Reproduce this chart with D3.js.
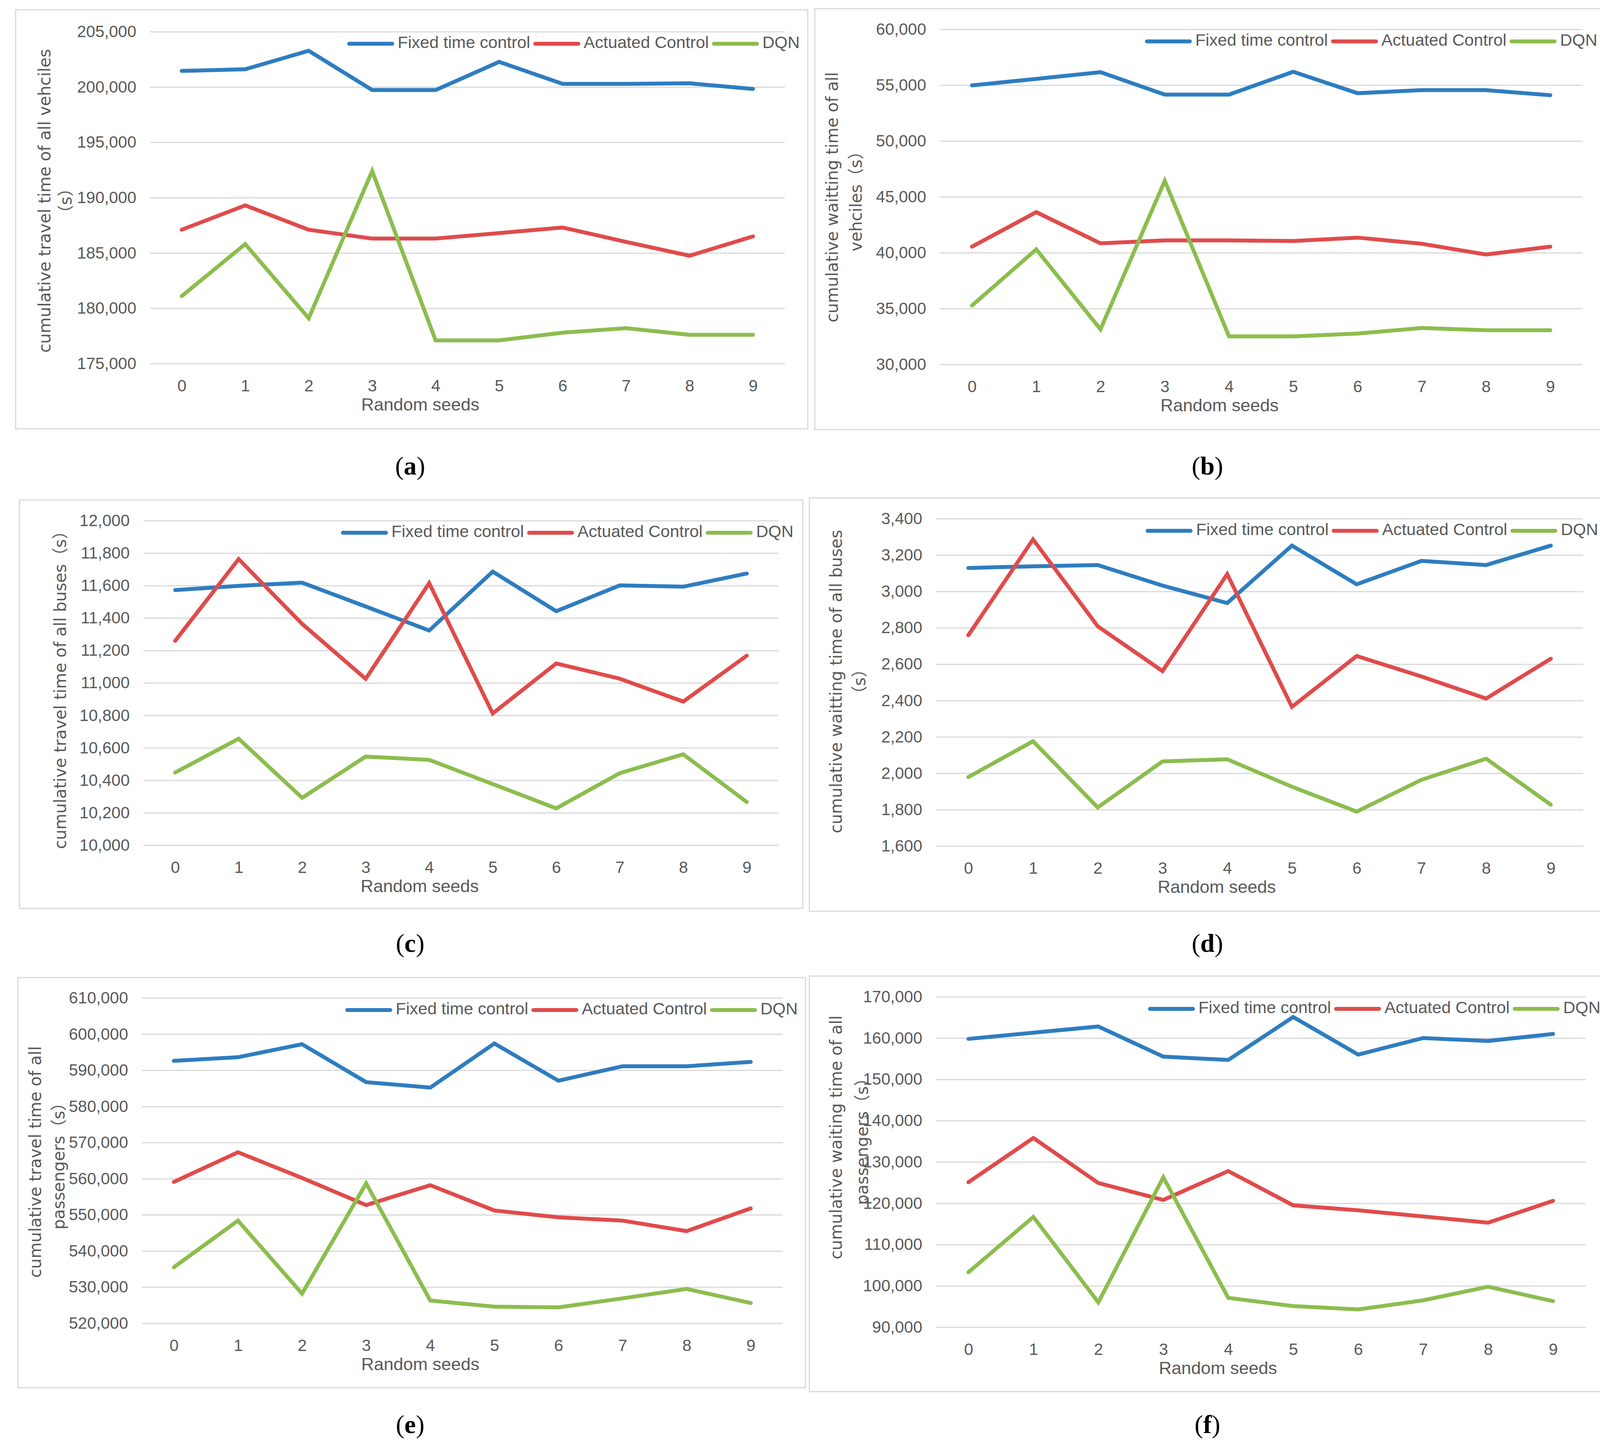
<!DOCTYPE html>
<html>
<head>
<meta charset="utf-8">
<script src="https://cdn.jsdelivr.net/npm/d3@7"></script>
<style>
  body { margin: 0; background: #fff; }
  text { fill: #595959; }
</style>
</head>
<body>
<div id="container"></div>
<script>
const w = 4143;
const h = 3715;

const seeds = ["0", "1", "2", "3", "4", "5", "6", "7", "8", "9"];
const seriesNames = ["Fixed time control", "Actuated Control", "DQN"];
const seriesColors = ["#2e7dc0", "#e04b4b", "#8cbd4e"];

// (a) travel time, all vehicles
const aFixed = [201450, 201600, 203270, 199720, 199720, 202270, 200280, 200280, 200330, 199820];
const aActuated = [187100, 189300, 187100, 186300, 186300, 186800, 187300, 186000, 184750, 186500];
const aDqn = [181100, 185800, 179100, 192400, 177100, 177100, 177800, 178200, 177600, 177600];

// (b) waiting time, all vehicles
const bFixed = [54980, 55560, 56160, 54150, 54150, 56200, 54280, 54550, 54550, 54100];
const bActuated = [40540, 43630, 40840, 41100, 41100, 41050, 41350, 40800, 39840, 40540];
const bDqn = [35270, 40300, 33140, 46440, 32510, 32510, 32760, 33260, 33060, 33060];

// (c) travel time, buses
const cFixed = [11572, 11598, 11618, 11471, 11323, 11686, 11442, 11601, 11593, 11674];
const cActuated = [11259, 11763, 11364, 11025, 11615, 10812, 11120, 11026, 10885, 11168];
const cDqn = [10448, 10656, 10292, 10546, 10526, 10377, 10227, 10444, 10560, 10266];

// (d) waiting time, buses
const dFixed = [3129, 3138, 3145, 3032, 2936, 3252, 3039, 3168, 3145, 3252];
const dActuated = [2759, 3286, 2808, 2562, 3095, 2365, 2645, 2532, 2411, 2630];
const dDqn = [1979, 2176, 1812, 2065, 2077, 1926, 1789, 1964, 2080, 1827];

// (e) travel time, passengers
const eFixed = [592600, 593600, 597200, 586700, 585200, 597400, 587100, 591100, 591100, 592300];
const eActuated = [559100, 567300, 560200, 552700, 558200, 551200, 549300, 548400, 545500, 551800];
const eDqn = [535500, 548400, 528200, 558700, 526300, 524600, 524400, 526900, 529500, 525600];

// (f) waiting time, passengers
const fFixed = [159800, 161300, 162800, 155500, 154700, 165100, 156000, 160000, 159300, 161000];
const fActuated = [125100, 135800, 124900, 120800, 127800, 119500, 118300, 116800, 115300, 120600];
const fDqn = [103300, 116700, 96000, 126300, 97100, 95100, 94300, 96500, 99800, 96300];

const yTicksA = [175000, 180000, 185000, 190000, 195000, 200000, 205000];
const yTicksB = [30000, 35000, 40000, 45000, 50000, 55000, 60000];
const yTicksC = [10000, 10200, 10400, 10600, 10800, 11000, 11200, 11400, 11600, 11800, 12000];
const yTicksD = [1600, 1800, 2000, 2200, 2400, 2600, 2800, 3000, 3200, 3400];
const yTicksE = [520000, 530000, 540000, 550000, 560000, 570000, 580000, 590000, 600000, 610000];
const yTicksF = [90000, 100000, 110000, 120000, 130000, 140000, 150000, 160000, 170000];

const panels = [
  { tag: "a", series: [aFixed, aActuated, aDqn], ticks: yTicksA,
    box: [40, 25, 2068, 1098], plot: [384, 81, 2009, 931],
    title: ["cumulative travel time of all vehciles", "（s）"], tx: 117, tx2: 171, ty: 514, cap: [1050, 1200] },
  { tag: "b", series: [bFixed, bActuated, bDqn], ticks: yTicksB,
    box: [2086, 22, 4114, 1100], plot: [2406, 75, 4051, 933],
    title: ["cumulative waitting time of all", "vehciles（s）"], tx: 2133, tx2: 2194, ty: 505, cap: [3091, 1200] },
  { tag: "c", series: [cFixed, cActuated, cDqn], ticks: yTicksC,
    box: [50, 1280, 2055, 2326], plot: [367, 1333, 1993, 2164],
    title: ["cumulative travel time of all buses（s）"], tx: 157, ty: 1756, cap: [1050, 2422] },
  { tag: "d", series: [dFixed, dActuated, dDqn], ticks: yTicksD,
    box: [2072, 1275, 4114, 2333], plot: [2396, 1328, 4053, 2166],
    title: ["cumulative waitting time of all buses", "（s）"], tx: 2143, tx2: 2203, ty: 1745, cap: [3091, 2422] },
  { tag: "e", series: [eFixed, eActuated, eDqn], ticks: yTicksE,
    box: [46, 2503, 2062, 3553], plot: [363, 2555, 2004, 3388],
    title: ["cumulative travel time of all", "passengers（s）"], tx: 93, tx2: 153, ty: 2975, cap: [1050, 3654] },
  { tag: "f", series: [fFixed, fActuated, fDqn], ticks: yTicksF,
    box: [2072, 2499, 4120, 3563], plot: [2396, 2552, 4059, 3398],
    title: ["cumulative waiting time of all", "passengers（s）"], tx: 2143, tx2: 2210, ty: 2912, cap: [3091, 3654] }
];

const svg = d3.select("#container")
              .append("svg")
              .attr("width", w)
              .attr("height", h)
              .style("background", "#fff");

panels.forEach(p => {
  const [bx0, by0, bx1, by1] = p.box;
  const [px0, py0, px1, py1] = p.plot;
  const g = svg.append("g");

  g.append("rect")
   .attr("x", bx0).attr("y", by0)
   .attr("width", bx1 - bx0).attr("height", by1 - by0)
   .attr("fill", "#fff")
   .attr("stroke", "#d9d9d9")
   .attr("stroke-width", 3);

  const x = d3.scalePoint().domain(seeds).range([px0, px1]).padding(0.5);
  const y = d3.scaleLinear()
              .domain([d3.min(p.ticks), d3.max(p.ticks)])
              .range([py1, py0]);

  // y axis + gridlines
  const yAxis = g.append("g")
                 .attr("transform", `translate(${px0},0)`)
                 .call(d3.axisLeft(y)
                         .tickValues(p.ticks)
                         .tickSize(-(px1 - px0))
                         .tickPadding(35)
                         .tickFormat(d3.format(",")));
  yAxis.select(".domain").remove();
  yAxis.selectAll(".tick line").attr("stroke", "#d9d9d9").attr("stroke-width", 3);
  yAxis.selectAll(".tick text")
       .style("font-family", "'Liberation Sans', Arial, sans-serif")
       .style("font-size", "42px")
       .attr("fill", "#595959");

  // x axis labels
  const xAxis = g.append("g")
                 .attr("transform", `translate(0,${py1})`)
                 .call(d3.axisBottom(x).tickSize(0).tickPadding(41));
  xAxis.select(".domain").remove();
  xAxis.selectAll(".tick text")
       .style("font-family", "'Liberation Sans', Arial, sans-serif")
       .style("font-size", "42px")
       .attr("fill", "#595959");

  g.append("text")
   .attr("x", (bx0 + bx1) / 2 + 22)
   .attr("y", py1 + 108)
   .attr("text-anchor", "middle")
   .attr("dominant-baseline", "middle")
   .style("font-family", "'Liberation Sans', Arial, sans-serif")
   .style("font-size", "45px")
   .text("Random seeds");

  // y axis title
  p.title.forEach((t, i) => {
    const tx = i === 0 ? p.tx : p.tx2;
    g.append("text")
     .attr("transform", `translate(${tx},${p.ty}) rotate(-90)`)
     .attr("text-anchor", "middle")
     .attr("dominant-baseline", "middle")
     .style("font-family", "'DejaVu Sans', 'Noto Sans CJK SC', sans-serif")
     .style("font-size", "42px")
     .text(t);
  });

  // lines
  const line = d3.line().x((d, i) => x(seeds[i])).y(d => y(d));
  p.series.forEach((s, i) => {
    g.append("path")
     .datum(s)
     .attr("d", line)
     .attr("fill", "none")
     .attr("stroke", seriesColors[i])
     .attr("stroke-width", 10)
     .attr("stroke-linecap", "round")
     .attr("stroke-linejoin", "miter");
  });

  // legend
  const ly = py0 + 31;
  let lx = px1 - 1115;
  seriesNames.forEach((name, i) => {
    g.append("line")
     .attr("x1", lx).attr("x2", lx + 110)
     .attr("y1", ly).attr("y2", ly)
     .attr("stroke", seriesColors[i])
     .attr("stroke-width", 10)
     .attr("stroke-linecap", "round");
    const t = g.append("text")
               .attr("x", lx + 124)
               .attr("y", ly)
               .attr("dominant-baseline", "middle")
               .style("font-family", "'Liberation Sans', Arial, sans-serif")
               .style("font-size", "43px")
               .text(name);
    lx += 124 + t.node().getComputedTextLength() + 13;
  });

  // caption
  const cap = svg.append("text")
                 .attr("x", p.cap[0])
                 .attr("y", p.cap[1])
                 .attr("text-anchor", "middle")
                 .attr("dominant-baseline", "middle")
                 .style("font-family", "'Liberation Serif', 'Times New Roman', serif")
                 .style("font-size", "66px")
                 .attr("fill", "#000");
  cap.append("tspan").text("(").attr("fill", "#000");
  cap.append("tspan").text(p.tag).style("font-weight", "bold").attr("fill", "#000");
  cap.append("tspan").text(")").attr("fill", "#000");
});
</script>
</body>
</html>
